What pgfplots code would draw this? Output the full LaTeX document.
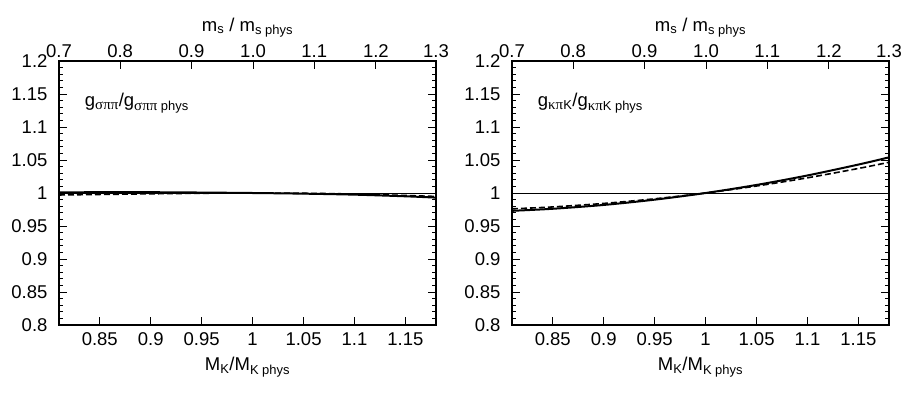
\documentclass[border=0pt]{standalone}
\usepackage{pgfplots}
\pgfplotsset{compat=1.18}
\usepackage{pgfplotstable}
\usepackage{fontspec}
\setmainfont{Liberation Sans}
\newfontfamily\grk[Scale=1.15]{Liberation Serif}
\newcommand\bigf{\fontsize{18.5}{21}\selectfont}

\pgfplotstableread{
x s1 d1 s2 d2
0.81 1.0010 0.9970 0.9730 0.9760
0.85 1.0012 0.9978 0.9761 0.9789
0.90 1.0012 0.9988 0.9819 0.9842
0.95 1.0007 0.9996 0.9899 0.9912
1.00 1.0000 1.0000 1.0000 1.0000
1.05 0.9990 0.9996 1.0122 1.0106
1.10 0.9975 0.9984 1.0266 1.0230
1.15 0.9950 0.9962 1.0431 1.0372
1.18 0.9930 0.9948 1.0540 1.0465
}\datatab

\pgfplotsset{
  panel/.style={
    scale only axis, width=377pt, height=264pt,
    xmin=0.81, xmax=1.18, ymin=0.8, ymax=1.2,
    xtick={0.85,0.9,0.95,1,1.05,1.1,1.15},
    xticklabels={0.85,0.9,0.95,1,1.05,1.1,1.15},
    ytick={0.8,0.85,0.9,0.95,1,1.05,1.1,1.15,1.2},
    yticklabels={0.8,0.85,0.9,0.95,1,1.05,1.1,1.15,1.2},
    minor y tick num=4,
    xtick pos=lower, ytick pos=both,
    tick align=inside,
    major tick length=8pt, minor tick length=4pt,
    every tick/.style={black, line width=1pt},
    axis line style={line width=1.5pt},
    tick label style={font=\bigf},
    label style={font=\bigf},
    xlabel={M\textsubscript{K}/M\textsubscript{K phys}},
    xlabel style={yshift=-5pt},
    xticklabel style={yshift=-4pt},
    yticklabel style={xshift=-8pt},
    /pgf/number format/assume math mode=true,
  },
  toppanel/.style={
    scale only axis, width=377pt, height=264pt,
    xmin=0.81, xmax=1.18, ymin=0.8, ymax=1.2,
    axis x line*=top, axis y line=none,
    xtick={0.81,0.870,0.940,1.0005,1.0605,1.121,1.18},
    xticklabels={0.7,0.8,0.9,1.0,1.1,1.2,1.3},
    tick align=inside, major tick length=8pt,
    every tick/.style={black, line width=1pt},
    axis line style={line width=1.5pt},
    tick label style={font=\bigf},
    label style={font=\bigf},
    xlabel={m\textsubscript{s} / m\textsubscript{s phys}},
  },
}

\begin{document}
\begin{tikzpicture}
\useasboundingbox (-59pt,-69pt) rectangle (847pt,325pt);
% left panel
\begin{axis}[panel]
  \addplot[black, line width=0.8pt] coordinates {(0.81,1) (1.18,1)};
  \addplot[black, line width=2pt, smooth] table[x=x, y=s1] {\datatab};
  \addplot[black, line width=1.6pt, smooth, dash pattern=on 6pt off 3pt] table[x=x, y=d1] {\datatab};
  \node[anchor=west, font=\bigf] at (axis cs:0.832,1.136) {g\textsubscript{{\grk σππ}}/g\textsubscript{{\grk σππ} phys}};
\end{axis}
\begin{axis}[toppanel]
\end{axis}
% right panel
\begin{axis}[panel, xshift=453pt]
  \addplot[black, line width=0.8pt] coordinates {(0.81,1) (1.18,1)};
  \addplot[black, line width=2pt, smooth] table[x=x, y=s2] {\datatab};
  \addplot[black, line width=1.6pt, smooth, dash pattern=on 6pt off 3pt] table[x=x, y=d2] {\datatab};
  \node[anchor=west, font=\bigf] at (axis cs:0.832,1.136) {g\textsubscript{{\grk κπ}K}/g\textsubscript{{\grk κπ}K phys}};
\end{axis}
\begin{axis}[toppanel, xshift=453pt]
\end{axis}
\end{tikzpicture}
\end{document}
